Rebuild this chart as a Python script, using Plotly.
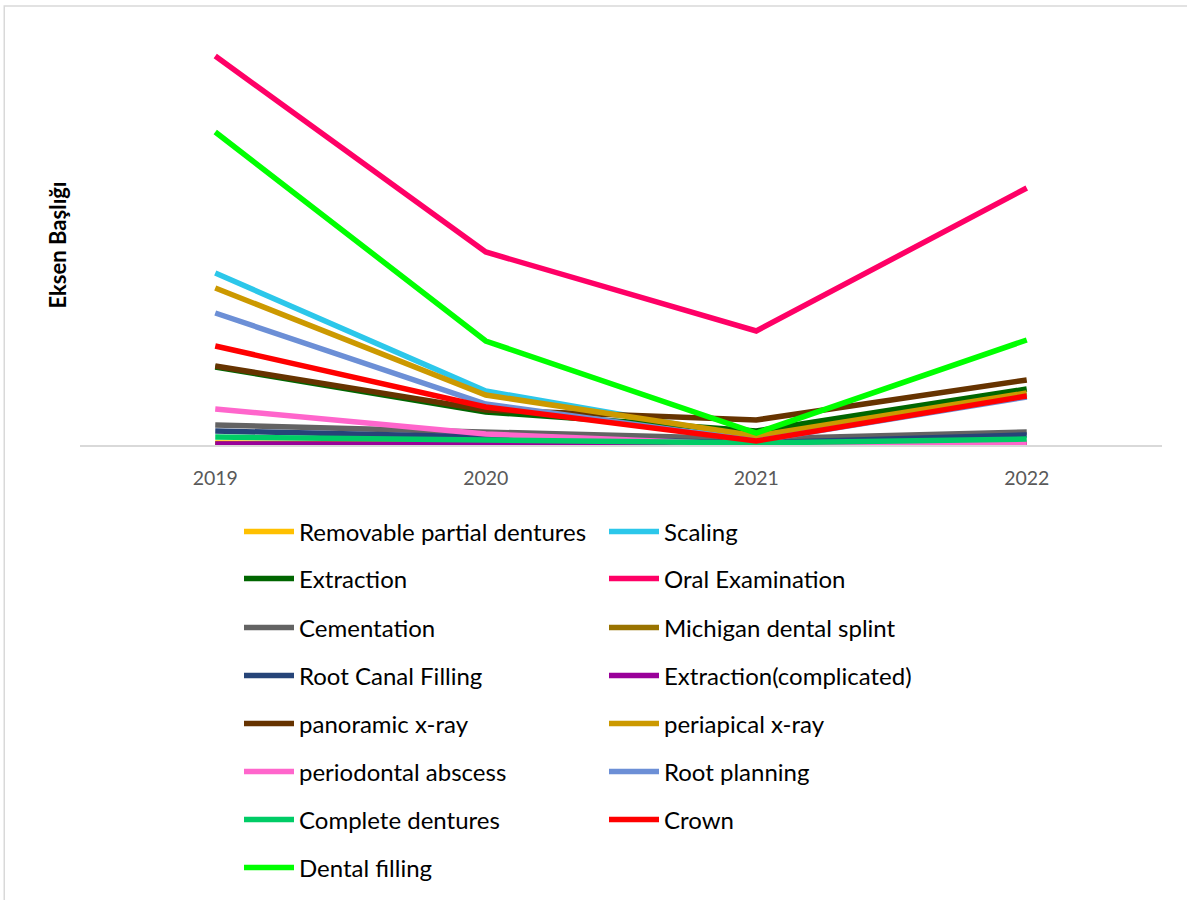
import plotly.graph_objects as go

years = ["2019", "2020", "2021", "2022"]

series_names = [
    "Removable partial dentures", "Scaling", "Extraction", "Oral Examination",
    "Cementation", "Michigan dental splint", "Root Canal Filling",
    "Extraction(complicated)", "panoramic x-ray", "periapical x-ray",
    "periodontal abscess", "Root planning", "Complete dentures", "Crown",
    "Dental filling",
]

removable_partial = [20, 10, 0, 10]
scaling = [1720, 540, 70, 510]
extraction = [780, 330, 140, 560]
oral_examination = [3890, 1930, 1140, 2570]
cementation = [200, 130, 60, 130]
michigan_splint = [10, 0, 0, 10]
root_canal = [140, 80, 20, 100]
extraction_complicated = [10, 0, 0, 0]
panoramic = [790, 350, 250, 650]
periapical = [1570, 500, 90, 520]
periodontal_abscess = [360, 110, 0, 20]
root_planning = [1320, 410, 40, 480]
complete_dentures = [80, 50, 20, 60]
crown = [990, 380, 40, 490]
dental_filling = [3130, 1040, 120, 1050]

values = [
    removable_partial, scaling, extraction, oral_examination, cementation,
    michigan_splint, root_canal, extraction_complicated, panoramic, periapical,
    periodontal_abscess, root_planning, complete_dentures, crown, dental_filling,
]

colors = [
    "#FFC000", "#2CC7EA", "#006600", "#FF0066", "#636363", "#997300",
    "#264478", "#990099", "#663300", "#CC9900", "#FF66CC", "#6C8FD6",
    "#00CC66", "#FF0000", "#00FF00",
]

row_y = [532, 579, 628, 676, 724, 772, 820, 868]
H = 900

fig = go.Figure()
for i, (name, vals, col) in enumerate(zip(series_names, values, colors)):
    row = i // 2
    leg = "legend" if row == 0 else f"legend{row + 1}"
    fig.add_trace(go.Scatter(
        x=years, y=vals, name=name, mode="lines",
        line=dict(color=col, width=5.5),
        legend=leg,
    ))

layout_legends = {}
for r, yc in enumerate(row_y):
    key = "legend" if r == 0 else f"legend{r + 1}"
    layout_legends[key] = dict(
        orientation="h", xref="container", yref="container",
        x=239 / 1187, y=1 - yc / H, xanchor="left", yanchor="middle",
        entrywidth=300, entrywidthmode="pixels", itemwidth=50,
        font=dict(family="Lato", size=24, color="#000000"),
        bgcolor="rgba(0,0,0,0)", traceorder="normal",
    )

fig.update_layout(
    width=1187, height=900,
    margin=dict(l=80, r=25, t=45, b=455),
    paper_bgcolor="white", plot_bgcolor="white",
    showlegend=True,
    **layout_legends,
)

fig.update_xaxes(
    type="category", range=[-0.5, 3.5],
    showline=True, linecolor="#D9D9D9", linewidth=2,
    showgrid=False, ticks="", ticklabelstandoff=15,
    tickfont=dict(family="Lato", size=19.5, color="#595959"),
)
fig.update_yaxes(
    range=[0, 4000], showgrid=False, zeroline=False, showline=False,
    showticklabels=False, ticks="",
    title=dict(text="<b>Eksen Başlığı</b>", standoff=6,
               font=dict(family="Lato", size=22, color="#000000")),
)

# chart-area border (top and left visible)
fig.add_shape(type="rect", xref="paper", yref="paper",
              x0=-0.070, x1=1.06, y0=-1.3, y1=1.0975,
              line=dict(color="#D9D9D9", width=1.5), layer="below")

fig.write_html("out.html")
